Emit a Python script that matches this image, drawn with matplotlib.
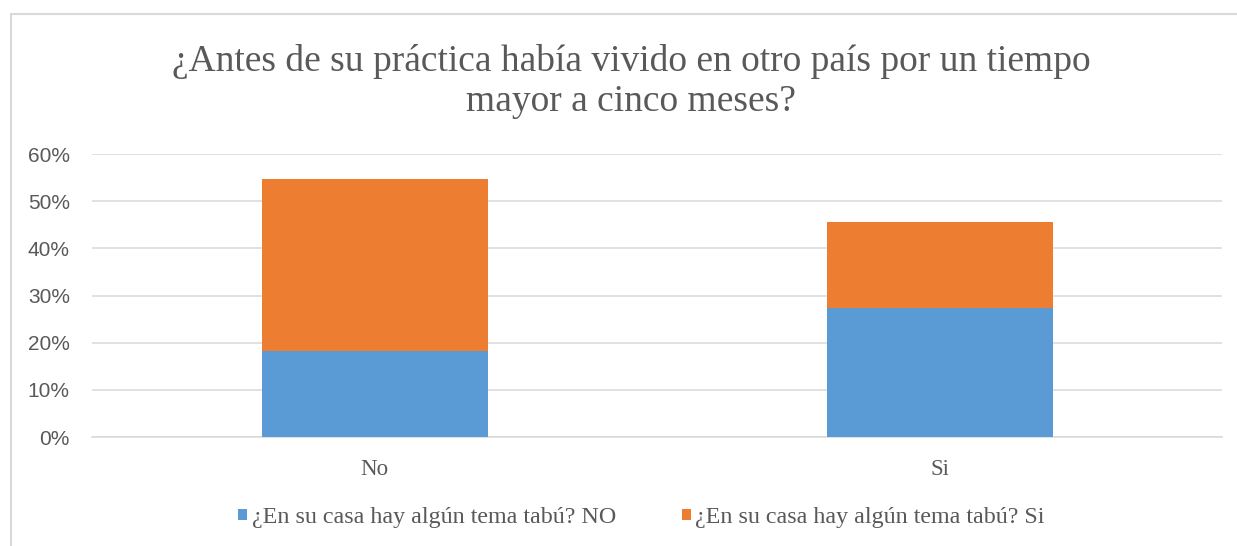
import numpy as np
import matplotlib.pyplot as plt
from matplotlib.patches import Rectangle
from matplotlib.ticker import PercentFormatter

# datos
categorias = ['No', 'Si']
tabu_no = [0.182, 0.273]   # ¿En su casa hay algún tema tabú? NO
tabu_si = [0.364, 0.182]   # ¿En su casa hay algún tema tabú? Si
series = ['¿En su casa hay algún tema tabú? NO', '¿En su casa hay algún tema tabú? Si']
colores = ['#5B9BD5', '#ED7D31']

serif = 'Liberation Serif'
sans = 'Liberation Sans'
gris = '#595959'

fig = plt.figure(figsize=(12.37, 5.46), dpi=100)
ax = fig.add_axes([0.0744, 0.1996, 0.9135, 0.5183])

# marco del gráfico
fig.patches.append(Rectangle((11 / 1237, -0.1), 1.2, 0.1 + (546 - 14) / 546,
                             transform=fig.transFigure, fill=False,
                             edgecolor='#d9d9d9', linewidth=1.5))

ind = np.arange(len(categorias))
width = 0.4
b1 = ax.bar(ind, tabu_no, width, color=colores[0], label=series[0], zorder=3)
b2 = ax.bar(ind, tabu_si, width, bottom=tabu_no, color=colores[1], label=series[1], zorder=3)

ax.set_xlim(-0.5, 1.5)
ax.set_ylim(0, 0.6)
ax.set_yticks(np.arange(0, 0.61, 0.1))
ax.yaxis.set_major_formatter(PercentFormatter(1.0, decimals=0))
ax.grid(axis='y', color='#d9d9d9', linewidth=1.1, zorder=0)
for s in ['top', 'right', 'left']:
    ax.spines[s].set_visible(False)
ax.spines['bottom'].set_color('#d9d9d9')
ax.spines['bottom'].set_linewidth(1.1)
ax.tick_params(axis='both', length=0)
ax.tick_params(axis='y', pad=16, labelsize=15, labelcolor=gris)
ax.tick_params(axis='x', pad=16, labelsize=16.5, labelcolor=gris)
ax.set_xticks(ind)
ax.set_xticklabels(categorias, family=serif)
for lbl in ax.get_yticklabels():
    lbl.set_family(sans)

fig.text(0.510, 0.851, '¿Antes de su práctica había vivido en otro país por un tiempo\nmayor a cinco meses?',
         ha='center', va='center', family=serif, fontsize=27, color=gris, linespacing=1.2)

leg = fig.legend(handles=[b1, b2], labels=series, loc='center', bbox_to_anchor=(0.5186, 0.052),
                 ncol=2, frameon=False, handlelength=0.36, handleheight=0.36, handletextpad=0.2,
                 columnspacing=2.75, prop={'family': serif, 'size': 17.3})
for t in leg.get_texts():
    t.set_color(gris)

fig.savefig('out.png', dpi=100)
